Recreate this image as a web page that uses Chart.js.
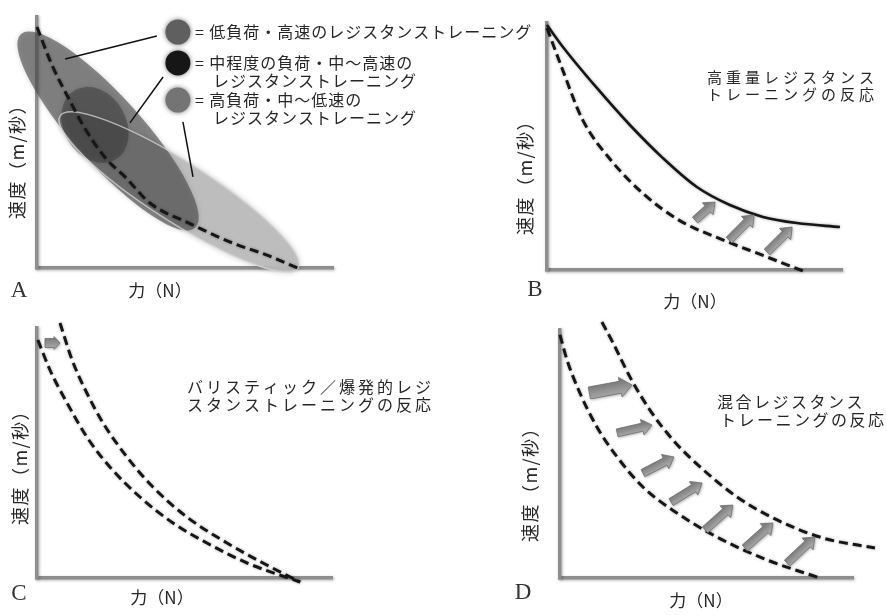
<!DOCTYPE html>
<html><head><meta charset="utf-8">
<script src="https://cdn.jsdelivr.net/npm/chart.js@4.4.1/dist/chart.umd.min.js"></script>
<style>
html,body{margin:0;padding:0;background:#fff;}
#wrap{position:relative;width:887px;height:615px;background:#fff;}
canvas{position:absolute;left:0;top:0;}
</style></head><body>
<div id="wrap">
<canvas id="cA" width="887" height="615"></canvas>
<canvas id="cB" width="887" height="615"></canvas>
<canvas id="cC" width="887" height="615"></canvas>
<canvas id="cD" width="887" height="615"></canvas>
</div>
<script>
// ---------- DATA (schematic units 0-100) ----------
// Panel A: force-velocity curve
const curveA_x = [0, 5, 10.5, 16, 23, 30, 38, 52, 66, 78, 88];
const curveA_y = [96, 81, 68, 56, 44, 36, 26, 17.5, 10, 5, 0];
// Panel A: training zones (ellipses): [centerX, centerY, tipX, tipY, semiMinor(x-units)]
const zoneLow    = [24.0, 54.6, -5.4, 93.2, 11.5];
const zoneMedium = [19.6, 57.0, 12.7, 70.8, 10.5];
const zoneHigh   = [48.0, 30.3, 88.2, 0.0, 10.1];
// Panel A: legend markers and leader lines
const legendMarkX = [47.6, 47.6, 47.6];
const legendMarkY = [94.0, 81.7, 66.9];
const leaderLines = [[40.5, 92.4, 9.5, 83.3], [42.6, 76.1, 31.4, 57.8], [49.3, 58.2, 52.7, 36.3]];
const legendLabels = [
  ['= 低負荷・高速のレジスタンストレーニング'],
  ['= 中程度の負荷・中～高速の', 'レジスタンストレーニング'],
  ['= 高負荷・中～低速の', 'レジスタンストレーニング']
];
// Panel B
const curveB_solid_x = [0, 5.4, 16.9, 28.1, 39.3, 50.8, 62, 73.2, 84.7, 99.3];
const curveB_solid_y = [99.2, 90.3, 73.7, 58.7, 45.3, 33.6, 26.3, 21.5, 19, 17.4];
const curveB_dash_x = [0, 5, 12, 22, 33, 45, 60, 73, 88];
const curveB_dash_y = [98, 82, 61, 44, 30.5, 20, 12, 6, -1];
const arrowsB = [[50.2, 20.2, 57.0, 27.5], [61.7, 12.1, 70.2, 22.3], [74.6, 7.3, 83.1, 17.4]];
// Panel C
const curveC_old_x = [0.3, 4.4, 10.2, 16.9, 24.7, 34.9, 46.1, 57.6, 71.2, 89.2];
const curveC_old_y = [95.2, 83.2, 70, 56.4, 44.4, 32.4, 22, 14, 6, -1.6];
const curveC_new_x = [7.8, 11.9, 16.9, 22.4, 30.5, 39.3, 50.8, 64.4, 76.6, 89.2];
const curveC_new_y = [102, 87.2, 74, 62, 48.4, 36.4, 24.4, 14, 6, -1.6];
const arrowsC = [[2.7, 94, 7.8, 94]];
// Panel D
const curveD_old_x = [0, 2.4, 6.8, 12.6, 19.5, 28.3, 39.9, 53.6, 70.6, 88.7];
const curveD_old_y = [98, 87.9, 74.6, 60.9, 48.8, 36.7, 26.2, 16.5, 7.3, 0];
const curveD_new_x = [14.3, 18.1, 23.9, 30.7, 38.6, 47.8, 60.4, 74.1, 89.8, 107.5];
const curveD_new_y = [103.2, 94.8, 81, 67.7, 55.6, 44.8, 32.7, 23.4, 16.1, 12.1];
const arrowsD = [[10.0, 74.6, 24.6, 77.8], [19.5, 58.5, 31.4, 61.7], [28.3, 42.3, 38.9, 48.8],
                 [37.9, 30.6, 48.5, 38.3], [49.5, 19.4, 59.0, 29.4], [63.1, 12.1, 72.7, 22.2],
                 [77.5, 6.0, 87.0, 16.5]];
// Text
const xTitle = '力（N）';
const yTitle = '速度（m/秒）';
const titleB = ['高重量レジスタンス', 'トレーニングの反応'];
const titleC = ['バリスティック／爆発的レジ', 'スタンストレーニングの反応'];
const titleD = ['混合レジスタンス', 'トレーニングの反応'];
const panelLetters = ['A', 'B', 'C', 'D'];

// ---------- helpers ----------
const pts = (xs, ys) => xs.map((x, i) => ({x, y: ys[i]}));
const CJK = '"Noto Sans CJK JP","Noto Sans",sans-serif';
const SERIF = '"Liberation Serif","DejaVu Serif",serif';

function P(chart, x, y) {
  return [chart.scales.x.getPixelForValue(x), chart.scales.y.getPixelForValue(y)];
}
function drawEllipse(ctx, chart, e, fill, stroke) {
  const [cx, cy] = P(chart, e[0], e[1]);
  const [tx, ty] = P(chart, e[2], e[3]);
  const a = Math.hypot(tx - cx, ty - cy);
  const b = Math.abs(chart.scales.x.getPixelForValue(e[4]) - chart.scales.x.getPixelForValue(0));
  const ang = Math.atan2(ty - cy, tx - cx);
  ctx.beginPath();
  ctx.ellipse(cx, cy, a, b, ang, 0, Math.PI * 2);
  if (fill) { ctx.fillStyle = fill; ctx.fill(); }
  if (stroke) { ctx.strokeStyle = stroke; ctx.lineWidth = 1.5; ctx.stroke(); }
}
function drawArrow(ctx, chart, a, bw, hw, hl) {
  const [x0, y0] = P(chart, a[0], a[1]);
  const [x1, y1] = P(chart, a[2], a[3]);
  const L = Math.hypot(x1 - x0, y1 - y0), ux = (x1 - x0) / L, uy = (y1 - y0) / L;
  const nx = -uy, ny = ux, hx = x1 - ux * hl, hy = y1 - uy * hl;
  ctx.save();
  ctx.shadowColor = 'rgba(0,0,0,0.35)'; ctx.shadowBlur = 3; ctx.shadowOffsetX = 1; ctx.shadowOffsetY = 1;
  ctx.beginPath();
  ctx.moveTo(x0 + nx * bw, y0 + ny * bw);
  ctx.lineTo(hx + nx * bw, hy + ny * bw);
  ctx.lineTo(hx + nx * hw, hy + ny * hw);
  ctx.lineTo(x1, y1);
  ctx.lineTo(hx - nx * hw, hy - ny * hw);
  ctx.lineTo(hx - nx * bw, hy - ny * bw);
  ctx.lineTo(x0 - nx * bw, y0 - ny * bw);
  ctx.closePath();
  const g = ctx.createLinearGradient(x0 + nx * bw, y0 + ny * bw, x0 - nx * bw, y0 - ny * bw);
  g.addColorStop(0, '#a6a6a6'); g.addColorStop(1, '#7c7c7c');
  ctx.fillStyle = g; ctx.fill();
  ctx.shadowColor = 'transparent';
  ctx.strokeStyle = '#6e6e6e'; ctx.lineWidth = 0.8; ctx.stroke();
  ctx.restore();
}
function text(ctx, str, x, y, opt) {
  ctx.save();
  ctx.font = opt.font; ctx.fillStyle = opt.color || '#262626';
  ctx.textAlign = opt.align || 'left'; ctx.textBaseline = 'middle';
  if ('letterSpacing' in ctx) ctx.letterSpacing = (opt.ls || 0) + 'px';
  ctx.translate(x, y);
  if (opt.rot) ctx.rotate(opt.rot);
  ctx.fillText(str, 0, 0);
  ctx.restore();
}

// ---------- panel decorations (drawn through each chart's scales) ----------
const DECOR = {
  cA: {
    under(ctx, ch) {
      ctx.save();
      ctx.shadowColor = 'rgba(0,0,0,0.25)'; ctx.shadowBlur = 6;
      drawEllipse(ctx, ch, zoneHigh, 'rgba(188,188,188,0.92)', null);
      ctx.shadowBlur = 5;
      drawEllipse(ctx, ch, zoneLow, 'rgba(80,80,80,0.66)', null);
      drawEllipse(ctx, ch, zoneMedium, 'rgba(45,45,45,0.42)', null);
      ctx.shadowColor = 'transparent';
      drawEllipse(ctx, ch, zoneHigh, null, 'rgba(215,215,215,0.75)');
      ctx.restore();
    },
    over(ctx, ch) {
      ctx.save();
      ctx.strokeStyle = '#111'; ctx.lineWidth = 1.5;
      leaderLines.forEach(l => {
        const [x0, y0] = P(ch, l[0], l[1]); const [x1, y1] = P(ch, l[2], l[3]);
        ctx.beginPath(); ctx.moveTo(x0, y0); ctx.lineTo(x1, y1); ctx.stroke();
      });
      const cols = ['#5f5f5f', '#161616', '#747474'];
      legendMarkX.forEach((x, i) => {
        const [cx, cy] = P(ch, x, legendMarkY[i]);
        ctx.shadowColor = 'rgba(0,0,0,0.55)'; ctx.shadowBlur = 5;
        ctx.beginPath(); ctx.arc(cx, cy, 12.5, 0, Math.PI * 2);
        ctx.fillStyle = cols[i]; ctx.fill();
        ctx.shadowColor = 'transparent';
        const rows = legendLabels[i];
        text(ctx, rows[0], cx + 17, cy, {font: '16px ' + CJK, ls: 1});
        if (rows[1]) text(ctx, rows[1], cx + 35, cy + 18, {font: '16px ' + CJK, ls: 1});
      });
      ctx.restore();
    },
    texts(ctx) {
      text(ctx, panelLetters[0], 19, 291, {font: '23px ' + SERIF, align: 'center', color: '#333'});
      text(ctx, xTitle, 160, 291, {font: '17px ' + CJK, align: 'center'});
      text(ctx, yTitle, 17, 157, {font: '18px ' + CJK, align: 'center', rot: -Math.PI / 2, ls: 1.5});
    }
  },
  cB: {
    over(ctx, ch) { arrowsB.forEach(a => drawArrow(ctx, ch, a, 4, 8, 10)); },
    texts(ctx) {
      text(ctx, panelLetters[1], 535, 290, {font: '23px ' + SERIF, align: 'center', color: '#333'});
      text(ctx, xTitle, 695, 302, {font: '17px ' + CJK, align: 'center'});
      text(ctx, yTitle, 525, 173, {font: '18px ' + CJK, align: 'center', rot: -Math.PI / 2, ls: 1.5});
      text(ctx, titleB[0], 707, 77, {font: '15px ' + CJK, ls: 4});
      text(ctx, titleB[1], 707, 94, {font: '15px ' + CJK, ls: 4});
    }
  },
  cC: {
    over(ctx, ch) { arrowsC.forEach(a => drawArrow(ctx, ch, a, 4.5, 6.5, 6)); },
    texts(ctx) {
      text(ctx, panelLetters[2], 19, 594, {font: '23px ' + SERIF, align: 'center', color: '#333'});
      text(ctx, xTitle, 162, 598, {font: '17px ' + CJK, align: 'center'});
      text(ctx, yTitle, 20, 463, {font: '18px ' + CJK, align: 'center', rot: -Math.PI / 2, ls: 1.5});
      text(ctx, titleC[0], 187, 387, {font: '16px ' + CJK, ls: 3});
      text(ctx, titleC[1], 187, 405, {font: '16px ' + CJK, ls: 3});
    }
  },
  cD: {
    over(ctx, ch) { arrowsD.forEach((a, i) => i === 0 ? drawArrow(ctx, ch, a, 6, 10, 12) : drawArrow(ctx, ch, a, 4, 8, 10)); },
    texts(ctx) {
      text(ctx, panelLetters[3], 523, 593, {font: '23px ' + SERIF, align: 'center', color: '#333'});
      text(ctx, xTitle, 701, 601, {font: '17px ' + CJK, align: 'center'});
      text(ctx, yTitle, 530, 480, {font: '18px ' + CJK, align: 'center', rot: -Math.PI / 2, ls: 1.5});
      text(ctx, titleD[0], 717, 402, {font: '16px ' + CJK, ls: 2.5});
      text(ctx, titleD[1], 720, 420, {font: '16px ' + CJK, ls: 2.5});
    }
  }
};

const decorPlugin = {
  id: 'panelDecor',
  beforeDraw(chart) {
    const c = chart.ctx; c.save();
    c.shadowColor = 'rgba(0,0,0,0.3)'; c.shadowBlur = 3; c.shadowOffsetX = 1; c.shadowOffsetY = 1;
  },
  beforeDatasetsDraw(chart) {
    chart.ctx.restore();
    const d = DECOR[chart.canvas.id]; if (d && d.under) d.under(chart.ctx, chart);
  },
  beforeDatasetDraw(chart) {
    const c = chart.ctx; c.save(); c.shadowColor = 'rgba(0,0,0,0.35)'; c.shadowBlur = 3;
  },
  afterDatasetDraw(chart) { chart.ctx.restore(); },
  afterDatasetsDraw(chart) { const d = DECOR[chart.canvas.id]; if (d && d.over) d.over(chart.ctx, chart); },
  afterDraw(chart) { const d = DECOR[chart.canvas.id]; if (d && d.texts) d.texts(chart.ctx, chart); }
};

function axis() {
  return {
    type: 'linear', min: 0, max: 100,
    grid: {display: false, drawTicks: false},
    ticks: {display: false},
    border: {display: true, color: '#8e8e8e', width: 3.5}
  };
}
function line(data, dashed) {
  return {
    data, showLine: true, clip: false,
    borderColor: '#161616', borderWidth: dashed ? 3 : 2.6,
    borderDash: dashed ? [9, 5] : [],
    cubicInterpolationMode: 'monotone', pointRadius: 0, fill: false
  };
}
function makeChart(id, datasets, pad) {
  return new Chart(document.getElementById(id), {
    type: 'scatter',
    data: {datasets},
    options: {
      responsive: false, animation: false, devicePixelRatio: 1,
      layout: {padding: pad},
      events: [],
      plugins: {legend: {display: false}, tooltip: {enabled: false}},
      scales: {x: axis(), y: axis()}
    },
    plugins: [decorPlugin]
  });
}

makeChart('cA', [line(pts(curveA_x, curveA_y), true)], {left: 37, top: 17, right: 554, bottom: 347});
makeChart('cB', [line(pts(curveB_solid_x, curveB_solid_y), false), line(pts(curveB_dash_x, curveB_dash_y), true)],
  {left: 547, top: 23, right: 45, bottom: 345});
makeChart('cC', [line(pts(curveC_old_x, curveC_old_y), true), line(pts(curveC_new_x, curveC_new_y), true)],
  {left: 37, top: 328, right: 555, bottom: 37});
makeChart('cD', [line(pts(curveD_old_x, curveD_old_y), true), line(pts(curveD_new_x, curveD_new_y), true)],
  {left: 560, top: 330, right: 34, bottom: 37});
</script>
</body></html>
